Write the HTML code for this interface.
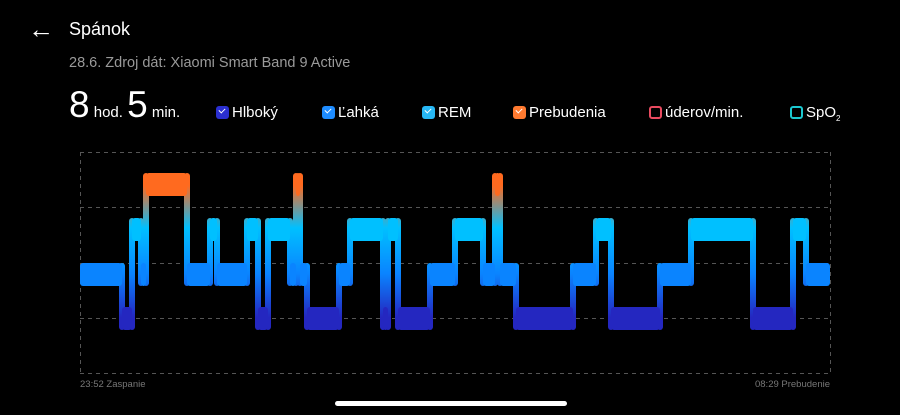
<!DOCTYPE html>
<html><head><meta charset="utf-8"><style>
body{margin:0;width:900px;height:415px;background:#000;overflow:hidden;font-family:"Liberation Sans",sans-serif;color:#fff;position:relative}
.a{position:absolute;white-space:nowrap}
.cb{display:inline-block;width:13px;height:13px;border-radius:3px;vertical-align:-2px;margin-right:3px;position:relative}
.cb.f::after{content:"";position:absolute;left:3px;top:2px;width:5px;height:3px;border-left:1.6px solid #fff;border-bottom:1.6px solid #fff;transform:rotate(-45deg)}
</style></head><body>
<div class="a" style="left:28px;top:16px;font-size:26px;line-height:26px">←</div>
<div class="a" style="left:69px;top:19px;font-size:18px">Spánok</div>
<div class="a" style="left:69px;top:55px;font-size:14.5px;color:#9a9a9a">28.6. Zdroj dát: Xiaomi Smart Band 9 Active</div>
<div class="a" style="left:69px;top:85px;font-size:37px;line-height:40px">8<span style="font-size:15px"> hod. </span>5<span style="font-size:15px"> min.</span></div>
<div class="a" style="left:216px;top:104px;font-size:15px"><span class="cb f" style="background:#2a2fd0"></span>Hlboký</div>
<div class="a" style="left:322px;top:104px;font-size:15px"><span class="cb f" style="background:#1e8cff"></span>Ľahká</div>
<div class="a" style="left:422px;top:104px;font-size:15px"><span class="cb f" style="background:#27b8f5"></span>REM</div>
<div class="a" style="left:513px;top:104px;font-size:15px"><span class="cb f" style="background:#ff7a30"></span>Prebudenia</div>
<div class="a" style="left:649px;top:104px;font-size:15px"><span class="cb" style="border:2px solid #e84a5f;width:9px;height:9px"></span>úderov/min.</div>
<div class="a" style="left:790px;top:104px;font-size:15px"><span class="cb" style="border:2px solid #1cc8d0;width:9px;height:9px"></span>SpO<sub style="font-size:8px">2</sub></div>
<div class="a" style="left:80px;top:379px;font-size:9.5px;color:#777">23:52 Zaspanie</div>
<div class="a" style="right:70px;top:379px;font-size:9.5px;color:#777">08:29 Prebudenie</div>
<div class="a" style="left:335px;top:401px;width:232px;height:5px;border-radius:3px;background:#fff"></div>
<svg class="a" style="left:0;top:0" width="900" height="415">
<defs><linearGradient id="g" gradientUnits="userSpaceOnUse" x1="0" y1="173" x2="0" y2="330">
<stop offset="0.08" stop-color="#ff6a1f"/><stop offset="0.35" stop-color="#00c0ff"/><stop offset="0.64" stop-color="#0a84ff"/><stop offset="0.92" stop-color="#2427c0"/></linearGradient></defs>
<g stroke="#555" stroke-dasharray="4,4" stroke-width="1" fill="none">
<line x1="80" y1="152.5" x2="830" y2="152.5"/><line x1="80" y1="207.5" x2="830" y2="207.5"/><line x1="80" y1="263.5" x2="830" y2="263.5"/><line x1="80" y1="318.5" x2="830" y2="318.5"/><line x1="80" y1="373.5" x2="830" y2="373.5"/>
<line x1="80.5" y1="152" x2="80.5" y2="373"/><line x1="830.5" y1="152" x2="830.5" y2="373"/></g>
<g id="c"></g>
</svg>
<script>
var S=[[80,122,'L'],[122,132,'D'],[132,141,'R'],[141,146,'L'],[146,187,'A'],[187,210,'L'],[210,217,'R'],[217,247,'L'],[247,258,'R'],[258,268,'D'],[268,290,'R'],[290,296,'L'],[296,300,'A'],[300,307,'L'],[307,339,'D'],[339,350,'L'],[350,383,'R'],[383,388,'D'],[388,398,'R'],[398,430,'D'],[430,455,'L'],[455,483,'R'],[483,495,'L'],[495,500,'A'],[500,516,'L'],[516,573,'D'],[573,596,'L'],[596,611,'R'],[611,660,'D'],[660,691,'L'],[691,753,'R'],[753,793,'D'],[793,806,'R'],[806,830,'L']];
var Y={A:173,R:218,L:263,D:307},C={A:'#ff6a1f',R:'#00c0ff',L:'#0a84ff',D:'#2427c0'};
var h='',g=document.getElementById('c');
for(var i=0;i<S.length;i++){var s=S[i];
 if(i>0){var p=S[i-1],y1=Math.min(Y[p[2]],Y[s[2]]),y2=Math.max(Y[p[2]],Y[s[2]])+23;
  h+='<rect x="'+(s[0]-3)+'" y="'+y1+'" width="6" height="'+(y2-y1)+'" rx="3" fill="url(#g)"/>';}
}
for(var i=0;i<S.length;i++){var s=S[i];
 h+='<rect x="'+s[0]+'" y="'+Y[s[2]]+'" width="'+(s[1]-s[0])+'" height="23" rx="3" fill="'+C[s[2]]+'"/>';}
g.innerHTML=h;
</script>
</body></html>
